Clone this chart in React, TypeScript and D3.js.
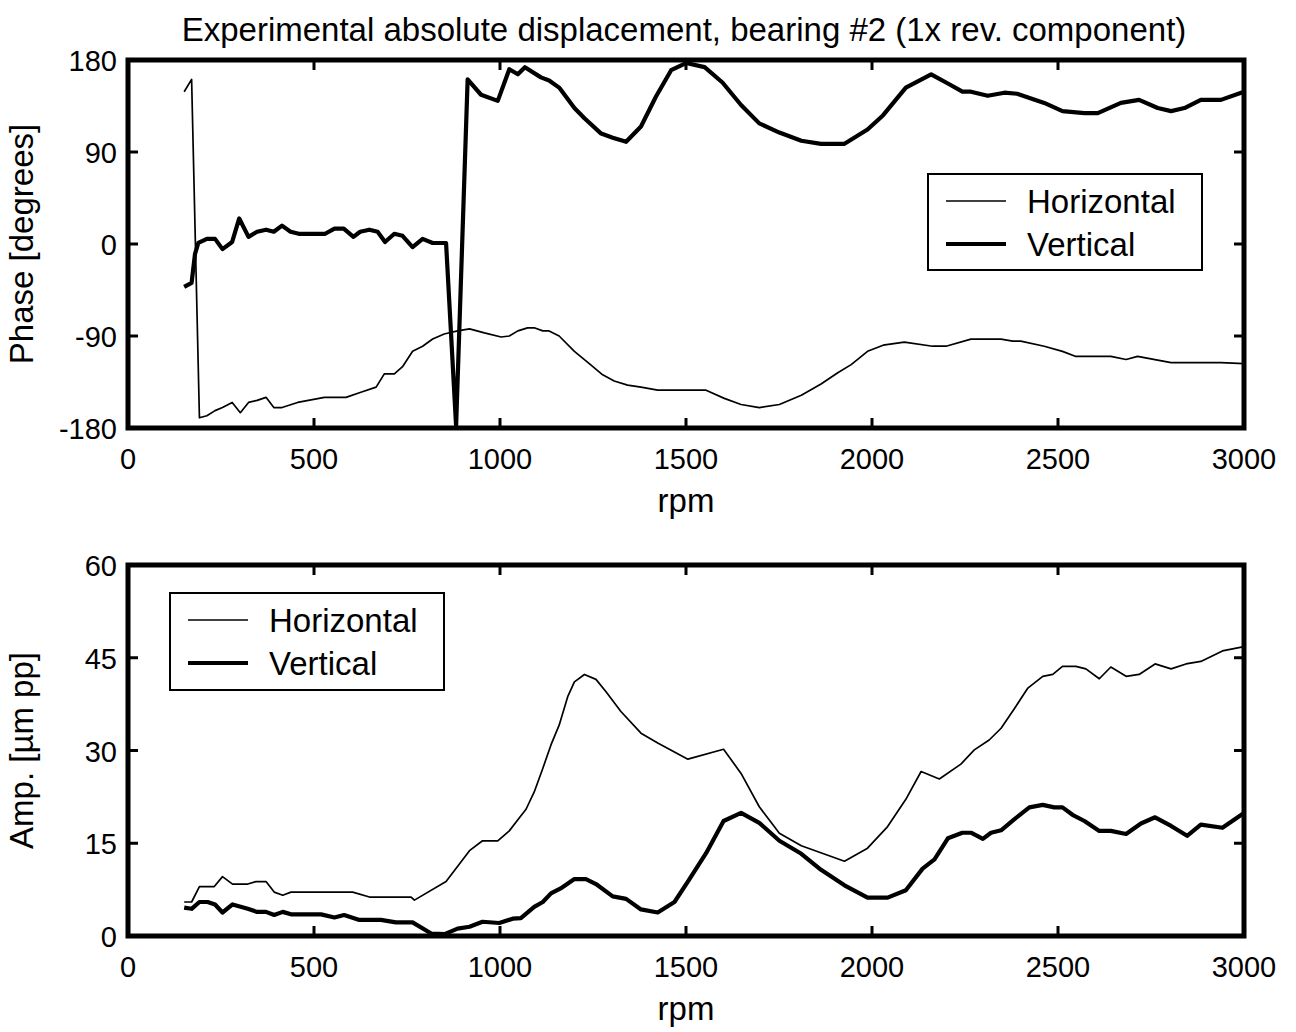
import React from "react";
import * as d3 from "d3";

const title = "Experimental absolute displacement, bearing #2 (1x rev. component)";
const xTicks = [0, 500, 1000, 1500, 2000, 2500, 3000];
const phaseTicks = [-180, -90, 0, 90, 180];
const ampTicks = [0, 15, 30, 45, 60];
const seriesNames = ["Horizontal", "Vertical"];

const phaseH: [number, number][] = [[151,149],[171,161],[192,-170],[212,-168],[234,-163],[254,-160],[280,-155],[302,-165],[324,-155],[347,-153],[371,-150],[392,-160],[414,-160],[456,-155],[528,-150],[586,-150],[626,-145],[667,-140],[689,-127],[716,-127],[738,-120],[765,-105],[792,-100],[819,-93],[850,-88],[886,-85],[918,-83],[958,-87],[1003,-91],[1025,-90],[1048,-85],[1074,-82],[1092,-82],[1115,-85],[1132,-85],[1159,-90],[1200,-105],[1240,-117],[1276,-128],[1307,-134],[1343,-138],[1379,-140],[1424,-143],[1554,-143],[1603,-151],[1648,-157],[1697,-160],[1751,-157],[1810,-148],[1863,-137],[1908,-126],[1944,-118],[1988,-105],[2030,-99],[2087,-96],[2163,-100],[2199,-100],[2266,-93],[2347,-93],[2378,-95],[2400,-95],[2463,-100],[2512,-105],[2548,-110],[2642,-110],[2683,-113],[2714,-110],[2804,-116],[2938,-116],[3000,-117]];

const phaseV: [number, number][] = [[151,-42],[171,-38],[180,-10],[189,1],[212,5],[234,5],[254,-5],[280,2],[299,25],[324,7],[347,12],[371,14],[392,12],[414,18],[437,12],[459,10],[530,10],[555,15],[580,15],[606,7],[624,12],[649,14],[671,12],[691,2],[716,10],[738,8],[765,-3],[792,5],[819,1],[855,1],[882,-178],[913,161],[949,146],[994,140],[1025,171],[1048,166],[1067,173],[1110,163],[1132,160],[1159,153],[1200,133],[1227,123],[1272,108],[1303,104],[1339,100],[1379,115],[1419,144],[1460,170],[1500,177],[1550,173],[1598,158],[1648,136],[1697,118],[1751,109],[1810,101],[1863,98],[1926,98],[1988,112],[2030,126],[2091,153],[2159,166],[2204,157],[2243,149],[2266,149],[2311,145],[2356,148],[2390,147],[2463,138],[2512,130],[2571,128],[2607,128],[2669,138],[2718,141],[2768,133],[2804,130],[2840,133],[2884,141],[2938,141],[3000,149]];

const ampH: [number, number][] = [[151,5.5],[171,5.5],[192,8],[232,8],[254,9.6],[281,8.4],[322,8.4],[344,8.8],[371,8.8],[393,7.1],[416,6.6],[438,7.1],[604,7.1],[649,6.3],[761,6.3],[770,5.8],[855,8.8],[918,13.8],[953,15.4],[994,15.4],[1025,17],[1048,18.8],[1070,20.5],[1092,23.3],[1115,27.1],[1137,30.9],[1159,34.1],[1182,38.7],[1200,41.1],[1227,42.3],[1258,41.5],[1285,39.5],[1325,36.3],[1379,32.8],[1424,31.2],[1505,28.6],[1601,30.2],[1648,26.3],[1697,20.9],[1751,16.6],[1810,14.6],[1926,12.1],[1988,14.2],[2042,17.7],[2091,22.1],[2132,26.6],[2181,25.4],[2239,27.8],[2275,30.1],[2315,31.7],[2347,33.6],[2383,36.8],[2419,40.1],[2459,42.0],[2486,42.3],[2512,43.6],[2548,43.6],[2575,43.2],[2611,41.6],[2642,43.5],[2683,42.0],[2718,42.3],[2761,44.0],[2804,43.2],[2844,44.0],[2884,44.4],[2942,46.1],[3000,46.8]];

const ampV: [number, number][] = [[151,4.6],[171,4.4],[192,5.5],[214,5.5],[234,5.1],[254,3.8],[281,5.1],[322,4.4],[347,3.9],[371,3.9],[393,3.4],[416,3.9],[438,3.5],[519,3.5],[555,3.0],[581,3.4],[622,2.6],[680,2.6],[720,2.2],[765,2.2],[815,0.4],[851,0.3],[886,1.2],[918,1.5],[953,2.3],[998,2.1],[1034,2.8],[1056,2.9],[1092,4.7],[1115,5.5],[1137,6.9],[1163,7.7],[1200,9.2],[1231,9.2],[1258,8.4],[1303,6.4],[1339,6.0],[1379,4.3],[1424,3.8],[1469,5.5],[1505,8.8],[1554,13.4],[1601,18.6],[1648,19.9],[1697,18.3],[1751,15.4],[1810,13.3],[1863,10.7],[1926,8.2],[1988,6.2],[2042,6.2],[2091,7.4],[2136,10.9],[2168,12.4],[2204,15.8],[2243,16.7],[2266,16.7],[2298,15.7],[2320,16.7],[2347,17.1],[2383,18.9],[2423,20.8],[2459,21.2],[2490,20.8],[2512,20.8],[2539,19.6],[2571,18.6],[2611,17.0],[2642,17.0],[2683,16.5],[2723,18.2],[2761,19.2],[2804,17.8],[2847,16.2],[2884,18.0],[2942,17.5],[3000,19.9]];

const W = 1296, H = 1032;
const FONT = "'Liberation Sans', Arial, Helvetica, sans-serif";
const FS = 29;
const LFS = 33;
const X0 = 128, X1 = 1244;
const THIN = 1.7, THICK = 4.2;

type PanelProps = {
  top: number; bottom: number; domain: [number, number]; ticks: number[];
  ylabel: string; h: [number, number][]; v: [number, number][];
  legend: { x: number; y: number; w: number; h: number };
};

function Panel({ top, bottom, domain, ticks, ylabel, h, v, legend }: PanelProps) {
  const x = d3.scaleLinear().domain([0, 3000]).range([X0, X1]);
  const y = d3.scaleLinear().domain(domain).range([bottom, top]);
  const line = d3.line<[number, number]>().x(d => x(d[0])).y(d => y(d[1]));
  const tl = 10;
  return (
    <g>
      <path d={line(h) || ""} fill="none" stroke="#000" strokeWidth={THIN} strokeLinejoin="round" />
      <path d={line(v) || ""} fill="none" stroke="#000" strokeWidth={THICK} strokeLinejoin="round" />
      <rect x={X0} y={top} width={X1 - X0} height={bottom - top} fill="none" stroke="#000" strokeWidth={5} />
      {xTicks.map(t => (
        <g key={"x" + t}>
          <line x1={x(t)} x2={x(t)} y1={bottom} y2={bottom - tl} stroke="#000" strokeWidth={3} />
          <line x1={x(t)} x2={x(t)} y1={top} y2={top + tl} stroke="#000" strokeWidth={3} />
          <text x={x(t)} y={bottom + 41} textAnchor="middle" fontSize={FS} fontFamily={FONT}>{t}</text>
        </g>
      ))}
      {ticks.map(t => (
        <g key={"y" + t}>
          <line x1={X0} x2={X0 + tl} y1={y(t)} y2={y(t)} stroke="#000" strokeWidth={3} />
          <line x1={X1} x2={X1 - tl} y1={y(t)} y2={y(t)} stroke="#000" strokeWidth={3} />
          <text x={117} y={y(t) + 11} textAnchor="end" fontSize={FS} fontFamily={FONT}>{t}</text>
        </g>
      ))}
      <text x={(X0 + X1) / 2} y={bottom + 84} textAnchor="middle" fontSize={LFS} fontFamily={FONT}>rpm</text>
      <text transform={`translate(33,${(top + bottom) / 2}) rotate(-90)`} textAnchor="middle" fontSize={LFS} fontFamily={FONT}>{ylabel}</text>
      <g>
        <rect x={legend.x} y={legend.y} width={legend.w} height={legend.h} fill="#fff" stroke="#000" strokeWidth={2} />
        {seriesNames.map((n, i) => {
          const ly = legend.y + 27 + i * 43;
          return (
            <g key={n}>
              <line x1={legend.x + 18} x2={legend.x + 78} y1={ly} y2={ly} stroke="#000" strokeWidth={i === 0 ? THIN : THICK} />
              <text x={legend.x + 99} y={ly + 12} fontSize={LFS} fontFamily={FONT}>{n}</text>
            </g>
          );
        })}
      </g>
    </g>
  );
}

export default function App() {
  return (
    <svg width={W} height={H} style={{ position: "absolute", left: 0, top: 0, background: "#fff" }}>
      <rect x={0} y={0} width={W} height={H} fill="#fff" />
      <text x={(X0 + X1) / 2 - 2} y={41} textAnchor="middle" fontSize={LFS} fontFamily={FONT}>{title}</text>
      <Panel top={60} bottom={428} domain={[-180, 180]} ticks={phaseTicks} ylabel="Phase [degrees]" h={phaseH} v={phaseV}
        legend={{ x: 928, y: 174, w: 274, h: 96 }} />
      <Panel top={565} bottom={936} domain={[0, 60]} ticks={ampTicks} ylabel="Amp. [µm pp]" h={ampH} v={ampV}
        legend={{ x: 170, y: 593, w: 274, h: 97 }} />
    </svg>
  );
}
